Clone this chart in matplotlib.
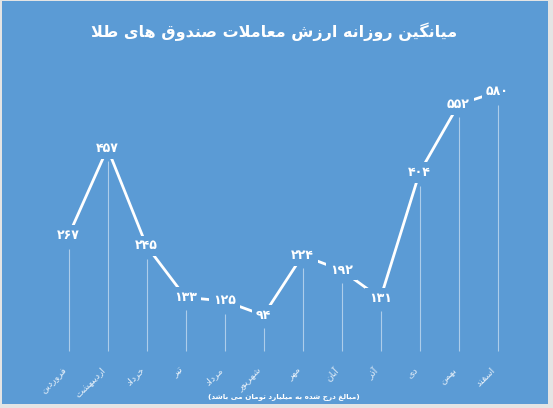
import matplotlib
matplotlib.use('Agg')
import matplotlib.pyplot as plt
from matplotlib.patches import Rectangle

plt.rcParams['font.family'] = ['DejaVu Sans']

months = ['فروردین', 'اردیبهشت', 'خرداد', 'تیر', 'مرداد', 'شهریور',
          'مهر', 'آبان', 'آذر', 'دی', 'بهمن', 'اسفند']
values = [267, 457, 245, 133, 125, 94, 224, 192, 131, 404, 552, 580]
title = 'میانگین روزانه ارزش معاملات صندوق های طلا'
note = '(مبالغ درج شده به میلیارد تومان می باشد)'

bg = '#5B9BD5'

# matplotlib has no arabic shaping, so join letters by hand (presentation forms)
FORMS = {
    '\u0627': ('\uFE8D', '\uFE8E'),
    '\u0622': ('\uFE81', '\uFE82'),
    '\u0628': ('\uFE8F', '\uFE90', '\uFE91', '\uFE92'),
    '\u062A': ('\uFE95', '\uFE96', '\uFE97', '\uFE98'),
    '\u062C': ('\uFE9D', '\uFE9E', '\uFE9F', '\uFEA0'),
    '\u062E': ('\uFEA5', '\uFEA6', '\uFEA7', '\uFEA8'),
    '\u062F': ('\uFEA9', '\uFEAA'),
    '\u0630': ('\uFEAB', '\uFEAC'),
    '\u0631': ('\uFEAD', '\uFEAE'),
    '\u0632': ('\uFEAF', '\uFEB0'),
    '\u0633': ('\uFEB1', '\uFEB2', '\uFEB3', '\uFEB4'),
    '\u0634': ('\uFEB5', '\uFEB6', '\uFEB7', '\uFEB8'),
    '\u0635': ('\uFEB9', '\uFEBA', '\uFEBB', '\uFEBC'),
    '\u0637': ('\uFEC1', '\uFEC2', '\uFEC3', '\uFEC4'),
    '\u0639': ('\uFEC9', '\uFECA', '\uFECB', '\uFECC'),
    '\u063A': ('\uFECD', '\uFECE', '\uFECF', '\uFED0'),
    '\u0641': ('\uFED1', '\uFED2', '\uFED3', '\uFED4'),
    '\u0642': ('\uFED5', '\uFED6', '\uFED7', '\uFED8'),
    '\u0644': ('\uFEDD', '\uFEDE', '\uFEDF', '\uFEE0'),
    '\u0645': ('\uFEE1', '\uFEE2', '\uFEE3', '\uFEE4'),
    '\u0646': ('\uFEE5', '\uFEE6', '\uFEE7', '\uFEE8'),
    '\u0647': ('\uFEE9', '\uFEEA', '\uFEEB', '\uFEEC'),
    '\u0648': ('\uFEED', '\uFEEE'),
    '\u06CC': ('\uFBFC', '\uFBFD', '\uFBFE', '\uFBFF'),
    '\u06AF': ('\uFB92', '\uFB93', '\uFB94', '\uFB95'),
}
LAM_ALEF = {'\u0627': ('\uFEFB', '\uFEFC'), '\u0622': ('\uFEF5', '\uFEF6')}


def shape(text):
    units = []
    i = 0
    while i < len(text):
        c = text[i]
        if c == '\u0644' and i + 1 < len(text) and text[i + 1] in LAM_ALEF:
            units.append('LA' + text[i + 1])
            i += 2
        else:
            units.append(c)
            i += 1
    res = []
    for k, u in enumerate(units):
        prev = units[k - 1] if k > 0 else None
        nxt = units[k + 1] if k + 1 < len(units) else None
        cp = prev in FORMS and len(FORMS[prev]) == 4
        if u.startswith('LA'):
            iso, fin = LAM_ALEF[u[2]]
            res.append(fin if cp else iso)
            continue
        if u not in FORMS:
            res.append(u)
            continue
        f = FORMS[u]
        cn = len(f) == 4 and nxt is not None and (nxt in FORMS or nxt.startswith('LA'))
        if cp and cn:
            res.append(f[3])
        elif cp:
            res.append(f[1])
        elif cn:
            res.append(f[2])
        else:
            res.append(f[0])
    s = ''.join(res)[::-1]
    return s.translate(str.maketrans('()', ')('))


def fa_num(v):
    return str(v).translate(str.maketrans('0123456789', '۰۱۲۳۴۵۶۷۸۹'))


fig = plt.figure(figsize=(5.53, 4.08), dpi=100, facecolor='#e4e4e4')
fig.patches.append(Rectangle((2 / 553, 4 / 408), 546 / 553, 403 / 408,
                             transform=fig.transFigure, facecolor=bg,
                             edgecolor='none', zorder=-10))

ax = fig.add_axes([49 / 553, 49.5 / 408, 468 / 553, 299 / 408])
ax.set_facecolor('none')
x = list(range(len(values)))
ax.set_xlim(-0.5, 11.5)
ax.set_ylim(0, 650)

ax.plot(x, values, color='white', linewidth=2, zorder=2, solid_capstyle='butt')
ax.vlines(x, 16, [v - 28 for v in values], color='white', alpha=0.5,
          linewidth=0.8, zorder=1)

for xi, v in zip(x, values):
    ax.text(xi, v, fa_num(v), ha='center', va='center', color='white',
            fontsize=9, fontweight='bold', zorder=3,
            bbox=dict(boxstyle='square,pad=0.3', facecolor=bg, edgecolor='none'))

ax.set_xticks(x)
ax.set_xticklabels([shape(m) for m in months], rotation=45, ha='right',
                   fontsize=6.8, color='white', alpha=0.85)
ax.tick_params(axis='x', length=0, pad=5)
ax.set_yticks([])
for s in ax.spines.values():
    s.set_visible(False)

fig.text(274.5 / 553, 1 - 32 / 408, shape(title), ha='center', va='center',
         color='white', fontsize=11.5, fontweight='bold')
fig.text(283.5 / 553, 1 - 397 / 408, shape(note), ha='center', va='center',
         color='white', fontsize=5.2, fontweight='bold')

fig.savefig('out.png', dpi=100, facecolor=fig.get_facecolor())
